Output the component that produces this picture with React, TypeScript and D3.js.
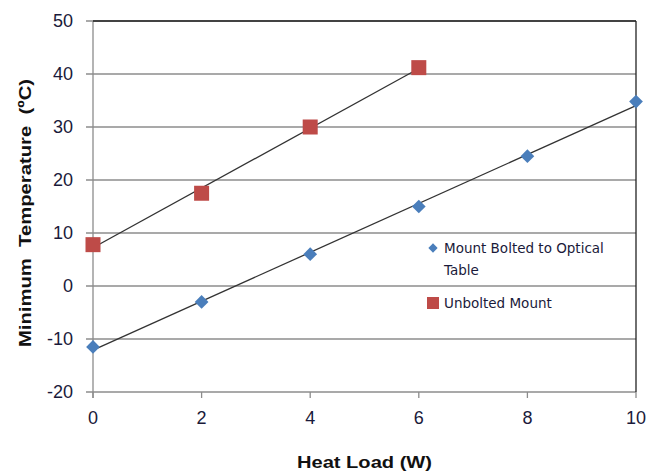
import React from 'react';
import * as d3 from 'd3';

const heatLoad = [0, 2, 4, 6, 8, 10];
const boltedTemps = [-11.5, -3, 6, 15, 24.5, 34.8];
const unboltedLoad = [0, 2, 4, 6];
const unboltedTemps = [7.8, 17.5, 30, 41.2];
const xTicks = [0, 2, 4, 6, 8, 10];
const yTicks = [-20, -10, 0, 10, 20, 30, 40, 50];

const W = 662;
const H = 472;
const margin = { left: 93, right: 26, top: 21, bottom: 80 };

// least squares trend line
const fit = (xs: number[], ys: number[]) => {
  const mx = d3.mean(xs) as number;
  const my = d3.mean(ys) as number;
  const num = d3.sum(xs, (x, i) => (x - mx) * (ys[i] - my));
  const den = d3.sum(xs, x => (x - mx) * (x - mx));
  const slope = num / den;
  return { slope, intercept: my - slope * mx };
};

const App = () => {
  const x = d3.scaleLinear().domain([0, 10]).range([margin.left, W - margin.right]);
  const y = d3.scaleLinear().domain([-20, 50]).range([H - margin.bottom, margin.top]);
  const [x0, x1] = x.range();
  const [yb, yt] = y.range();

  const blueFit = fit(heatLoad, boltedTemps);
  const redFit = fit(unboltedLoad, unboltedTemps);
  const tickColor = '#1a1a3a';
  const diamond = d3.symbol().type(d3.symbolDiamond2).size(120)();
  const blue = '#4a7ebb';
  const red = '#be4b48';

  return (
    <svg width={W} height={H} style={{ position: 'absolute', left: 0, top: 0, fontFamily: '"Liberation Sans", Arial, sans-serif' }}>
      <rect width={W} height={H} fill="#fff" />
      {/* gridlines */}
      {yTicks.map(t => (
        <line key={t} x1={x0 - 7} x2={x1} y1={y(t)} y2={y(t)} stroke="#8c8c8c" strokeWidth={1.3} />
      ))}
      <line x1={x0} x2={x0} y1={yt} y2={yb + 6} stroke="#8c8c8c" strokeWidth={1.3} />
      {xTicks.map(t => (
        <line key={t} x1={x(t)} x2={x(t)} y1={yb} y2={yb + 6} stroke="#8c8c8c" strokeWidth={1.3} />
      ))}
      <line x1={x0} x2={x1} y1={yt} y2={yt} stroke="#222" strokeWidth={1.3} />
      <line x1={x1} x2={x1} y1={yt} y2={yb} stroke="#222" strokeWidth={1.3} />

      {/* tick labels */}
      {yTicks.map(t => (
        <text key={t} x={x0 - 20} y={y(t)} dy="0.36em" textAnchor="end" fontSize={18} fill={tickColor}>{t}</text>
      ))}
      {xTicks.map(t => (
        <text key={t} x={x(t)} y={yb + 26} dy="0.36em" textAnchor="middle" fontSize={18} fill={tickColor}>{t}</text>
      ))}

      {/* trend lines */}
      <line x1={x(0)} y1={y(blueFit.intercept)} x2={x(10)} y2={y(blueFit.intercept + blueFit.slope * 10)} stroke="#333" strokeWidth={1.3} />
      <line x1={x(0)} y1={y(redFit.intercept)} x2={x(6)} y2={y(redFit.intercept + redFit.slope * 6)} stroke="#333" strokeWidth={1.3} />

      {/* markers */}
      {heatLoad.map((h, i) => (
        <path key={i} d={diamond} transform={`translate(${x(h)},${y(boltedTemps[i])})`} fill={blue} />
      ))}
      {unboltedLoad.map((h, i) => (
        <rect key={i} x={x(h) - 7.5} y={y(unboltedTemps[i]) - 7.5} width={15} height={15} fill={red} />
      ))}

      {/* legend */}
      <g fontFamily='"DejaVu Sans", Tahoma, sans-serif' fontSize={13.5} fill="#1a1a3a">
        <path d={d3.symbol().type(d3.symbolDiamond2).size(55)()} transform="translate(433,248)" fill={blue} />
        <text x={444} y={248} dy="0.36em">Mount Bolted to Optical</text>
        <text x={444} y={270} dy="0.36em">Table</text>
        <rect x={427} y={297} width={12} height={12} fill={red} />
        <text x={444} y={303} dy="0.36em">Unbolted Mount</text>
      </g>

      {/* axis titles */}
      <text x={364.5} y={462} dy="0.36em" textAnchor="middle" fontSize={17} fontWeight="bold" fill="#111"
        textLength={135} lengthAdjust="spacingAndGlyphs">Heat Load (W)</text>
      <text transform="translate(25,213) rotate(-90)" dy="0.36em" textAnchor="middle" fontSize={17} fontWeight="bold" fill="#111"
        textLength={268} lengthAdjust="spacingAndGlyphs" style={{ whiteSpace: 'pre' }}>{'Minimum  Temperature  (ºC)'}</text>
    </svg>
  );
};

export default App;
